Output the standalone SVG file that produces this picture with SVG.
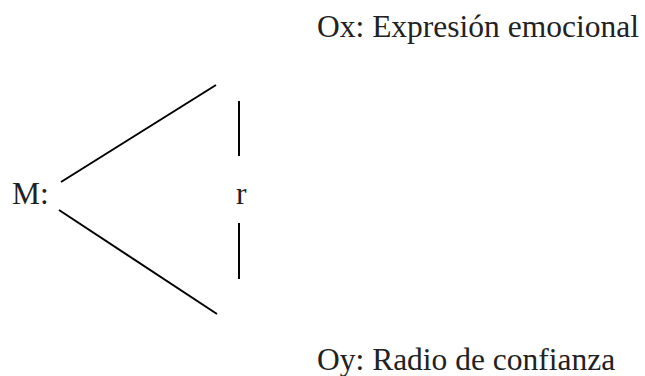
<svg xmlns="http://www.w3.org/2000/svg" width="645" height="376" viewBox="0 0 645 376">
<style>
text{font-family:"Liberation Serif","Times New Roman",serif;font-size:31.5px;fill:#222}
.ln{stroke:#000;stroke-width:2;fill:none}
</style>
<rect width="645" height="376" fill="#fff"/>
<g id="M"><text x="12" y="204">M:</text></g>
<g id="Ox"><text x="317" y="37">Ox: Expresión emocional</text></g>
<g id="Oy"><text x="317" y="370">Oy: Radio de confianza</text></g>
<g id="r"><text x="236" y="204">r</text></g>
<g id="connectors">
<line class="ln" x1="61" y1="182" x2="216" y2="85"/>
<line class="ln" x1="59" y1="210" x2="217" y2="314"/>
<line class="ln" x1="239" y1="101" x2="239" y2="156"/>
<line class="ln" x1="239" y1="223" x2="239" y2="279"/>
</g>
</svg>
